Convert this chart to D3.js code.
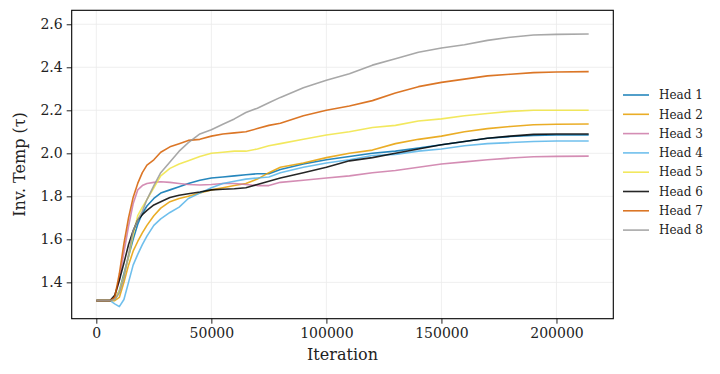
<!DOCTYPE html>
<html>
<head>
<meta charset="utf-8">
<script src="https://cdn.jsdelivr.net/npm/d3@7"></script>
<style>
  body { margin: 0; background: #fff; }
  svg text { font-family: "DejaVu Serif", serif; fill: #222; }
</style>
</head>
<body>
<svg width="720" height="374"></svg>
<script>
// iteration grid shared by all heads
var iters = [0, 6000, 8000, 10000, 12000, 14000, 16000, 18000, 20000, 22000, 25000, 28000,
  32000, 36000, 40000, 45000, 50000, 55000, 60000, 65000, 70000, 75000, 80000, 90000,
  100000, 110000, 120000, 130000, 140000, 150000, 160000, 170000, 180000, 190000, 200000, 214000];

var head1 = [1.315, 1.315, 1.32, 1.36, 1.44, 1.52, 1.60, 1.67, 1.72, 1.755, 1.79, 1.815,
  1.83, 1.845, 1.86, 1.875, 1.885, 1.89, 1.895, 1.90, 1.905, 1.905, 1.925, 1.95,
  1.97, 1.985, 2.0, 2.01, 2.025, 2.04, 2.055, 2.07, 2.078, 2.083, 2.085, 2.085];
var head2 = [1.315, 1.315, 1.315, 1.33, 1.40, 1.48, 1.545, 1.59, 1.63, 1.665, 1.71, 1.745,
  1.775, 1.79, 1.80, 1.815, 1.83, 1.84, 1.85, 1.86, 1.88, 1.91, 1.935, 1.955,
  1.98, 2.0, 2.015, 2.045, 2.065, 2.08, 2.10, 2.115, 2.125, 2.133, 2.135, 2.136];
var head3 = [1.315, 1.315, 1.33, 1.41, 1.54, 1.66, 1.765, 1.83, 1.85, 1.86, 1.865, 1.868,
  1.865, 1.86, 1.855, 1.853, 1.855, 1.86, 1.86, 1.855, 1.85, 1.85, 1.865, 1.875,
  1.885, 1.895, 1.91, 1.92, 1.935, 1.95, 1.96, 1.97, 1.978, 1.984, 1.986, 1.987];
var head4 = [1.315, 1.315, 1.30, 1.287, 1.32, 1.40, 1.48, 1.53, 1.575, 1.615, 1.665, 1.695,
  1.725, 1.75, 1.79, 1.815, 1.84, 1.86, 1.87, 1.88, 1.885, 1.89, 1.91, 1.935,
  1.955, 1.97, 1.99, 1.995, 2.01, 2.02, 2.035, 2.045, 2.05, 2.055, 2.057, 2.057];
var head5 = [1.315, 1.315, 1.32, 1.36, 1.43, 1.52, 1.62, 1.71, 1.75, 1.785, 1.84, 1.895,
  1.93, 1.95, 1.965, 1.985, 2.0, 2.005, 2.01, 2.01, 2.02, 2.035, 2.045, 2.065,
  2.085, 2.10, 2.12, 2.13, 2.15, 2.16, 2.175, 2.185, 2.195, 2.2, 2.2, 2.2];
var head6 = [1.315, 1.315, 1.34, 1.41, 1.49, 1.575, 1.64, 1.69, 1.715, 1.735, 1.76, 1.775,
  1.795, 1.805, 1.812, 1.82, 1.83, 1.833, 1.835, 1.84, 1.855, 1.87, 1.885, 1.91,
  1.935, 1.965, 1.98, 2.0, 2.02, 2.04, 2.055, 2.07, 2.08, 2.088, 2.09, 2.09];
var head7 = [1.315, 1.315, 1.33, 1.44, 1.58, 1.70, 1.795, 1.86, 1.91, 1.945, 1.97, 2.005,
  2.03, 2.045, 2.06, 2.065, 2.08, 2.09, 2.095, 2.10, 2.115, 2.13, 2.14, 2.175,
  2.20, 2.22, 2.245, 2.28, 2.31, 2.33, 2.345, 2.36, 2.368, 2.375, 2.378, 2.38];
var head8 = [1.315, 1.315, 1.32, 1.35, 1.42, 1.53, 1.64, 1.69, 1.73, 1.785, 1.85, 1.91,
  1.96, 2.01, 2.05, 2.09, 2.11, 2.135, 2.16, 2.19, 2.21, 2.235, 2.26, 2.305,
  2.34, 2.37, 2.41, 2.44, 2.47, 2.49, 2.505, 2.525, 2.54, 2.55, 2.553, 2.555];

var names = ["Head 1", "Head 2", "Head 3", "Head 4", "Head 5", "Head 6", "Head 7", "Head 8"];
var colors = ["#0072B2", "#E69F00", "#CC79A7", "#56B4E9", "#F0E442", "#000000", "#D55E00", "#999999"];
var xTicks = [0, 50000, 100000, 150000, 200000];
var yTicks = [1.4, 1.6, 1.8, 2.0, 2.2, 2.4, 2.6];

var allSeries = [head1, head2, head3, head4, head5, head6, head7, head8];

var svg = d3.select("svg");
var pLeft = 71.7, pRight = 613.3, pTop = 10.3, pBottom = 318.7;

var x = d3.scaleLinear().domain([-10700, 224700]).range([pLeft, pRight]);
var y = d3.scaleLinear().domain([1.231, 2.665]).range([pBottom, pTop]);

// grid
svg.append("g").selectAll("line").data(xTicks).enter().append("line")
  .attr("x1", function (d) { return x(d); }).attr("x2", function (d) { return x(d); })
  .attr("y1", pTop).attr("y2", pBottom)
  .attr("stroke", "#ebebeb").attr("stroke-width", 0.8);
svg.append("g").selectAll("line").data(yTicks).enter().append("line")
  .attr("y1", function (d) { return y(d); }).attr("y2", function (d) { return y(d); })
  .attr("x1", pLeft).attr("x2", pRight)
  .attr("stroke", "#ebebeb").attr("stroke-width", 0.8);

svg.append("clipPath").attr("id", "clip").append("rect")
  .attr("x", pLeft).attr("y", pTop).attr("width", pRight - pLeft).attr("height", pBottom - pTop);

var line = d3.line()
  .x(function (d) { return x(d[0]); })
  .y(function (d) { return y(d[1]); });

svg.append("g").attr("clip-path", "url(#clip)")
  .selectAll("path").data(allSeries).enter().append("path")
  .attr("d", function (s) { return line(iters.map(function (t, i) { return [t, s[i]]; })); })
  .attr("fill", "none")
  .attr("stroke", function (d, i) { return colors[i]; })
  .attr("stroke-opacity", 0.85)
  .attr("stroke-width", 1.6)
  .attr("stroke-linejoin", "round");

// axes
var xAxis = svg.append("g").attr("transform", "translate(0," + pBottom + ")")
  .call(d3.axisBottom(x).tickValues(xTicks).tickFormat(d3.format("d")).tickSize(5).tickPadding(4));
var yAxis = svg.append("g").attr("transform", "translate(" + pLeft + ",0)")
  .call(d3.axisLeft(y).tickValues(yTicks).tickFormat(d3.format(".1f")).tickSize(5).tickPadding(4));
[xAxis, yAxis].forEach(function (a) {
  a.select(".domain").remove();
  a.selectAll("text").style("font-family", "DejaVu Serif").style("font-size", "14px").attr("fill", "#222");
  a.selectAll("line").attr("stroke", "#222");
});

svg.append("rect").attr("x", pLeft).attr("y", pTop)
  .attr("width", pRight - pLeft).attr("height", pBottom - pTop)
  .attr("fill", "none").attr("stroke", "#000").attr("stroke-width", 1.1);

svg.append("text").attr("x", (pLeft + pRight) / 2).attr("y", 360)
  .attr("text-anchor", "middle").style("font-size", "16px").text("Iteration");
svg.append("text")
  .attr("transform", "translate(25," + ((pTop + pBottom) / 2) + ") rotate(-90)")
  .attr("text-anchor", "middle").style("font-size", "16px").text("Inv. Temp (τ)");

// legend
var legend = svg.append("g").selectAll("g").data(names).enter().append("g")
  .attr("transform", function (d, i) { return "translate(623," + (95 + i * 19.3) + ")"; });
legend.append("line").attr("x1", 0).attr("x2", 26)
  .attr("stroke", function (d, i) { return colors[i]; })
  .attr("stroke-opacity", 0.85).attr("stroke-width", 1.6);
legend.append("text").attr("x", 36).attr("dy", "0.35em")
  .style("font-size", "12px").text(function (d) { return d; });
</script>
</body>
</html>
